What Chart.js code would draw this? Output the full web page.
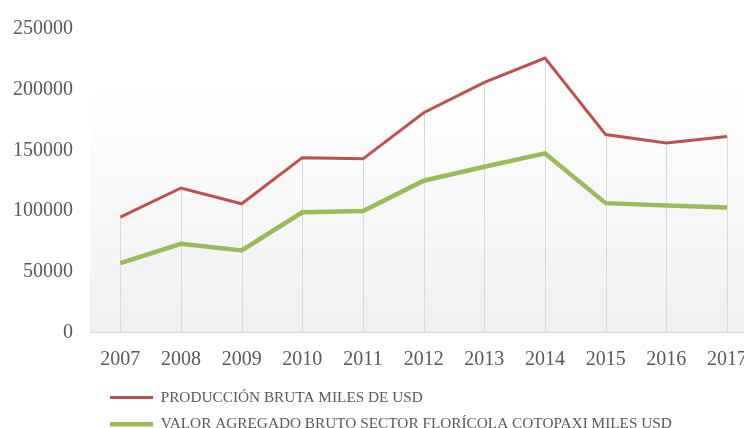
<!DOCTYPE html>
<html>
<head>
<meta charset="utf-8">
<script src="https://cdn.jsdelivr.net/npm/chart.js@4.4.1/dist/chart.umd.min.js"></script>
<style>
  html, body { margin: 0; padding: 0; background: #ffffff; overflow: hidden; }
  #wrap { position: relative; width: 762px; height: 442px; }
</style>
</head>
<body>
<div id="wrap"><canvas id="c"></canvas></div>
<script>
const years = ["2007","2008","2009","2010","2011","2012","2013","2014","2015","2016","2017"];
const produccionBruta = [95000, 119000, 106000, 144000, 143000, 181000, 206000, 226000, 163000, 156000, 161500];
const valorAgregado = [57000, 73000, 67500, 99000, 100000, 125000, 136500, 147500, 106500, 104500, 103000];
const seriesLabels = ["PRODUCCIÓN BRUTA MILES DE USD", "VALOR AGREGADO BRUTO SECTOR FLORÍCOLA COTOPAXI MILES USD"];
const yMax = 250000;
const yStep = 50000;

const bgPlugin = {
  id: 'plotBg',
  beforeDraw(chart) {
    const {ctx, chartArea} = chart;
    const top = chartArea.top + (chartArea.bottom - chartArea.top) * 0.17;
    const g = ctx.createLinearGradient(0, top, 0, chartArea.bottom);
    g.addColorStop(0, '#ffffff');
    g.addColorStop(1, '#f0f0f0');
    ctx.save();
    ctx.fillStyle = g;
    ctx.fillRect(chartArea.left, top, chartArea.right - chartArea.left, chartArea.bottom - top);
    ctx.restore();
  },
  beforeDatasetsDraw(chart) {
    const {ctx} = chart;
    const meta = chart.getDatasetMeta(0);
    const yScale = chart.scales.y;
    const base = yScale.getPixelForValue(0);
    ctx.save();
    ctx.strokeStyle = '#d9d9d9';
    ctx.lineWidth = 1;
    meta.data.forEach(pt => {
      const x = Math.round(pt.x) + 0.5;
      ctx.beginPath();
      ctx.moveTo(x, pt.y);
      ctx.lineTo(x, base);
      ctx.stroke();
    });
    ctx.restore();
  },
  afterLayout(chart) {
    const lg = chart.legend;
    if (lg) { lg.left += 8.5; lg.right += 8.5; }
  }
};

new Chart(document.getElementById('c'), {
  type: 'line',
  data: {
    labels: years,
    datasets: [
      {
        label: seriesLabels[0],
        data: produccionBruta,
        borderColor: '#c0504d',
        backgroundColor: '#c0504d',
        borderWidth: 3,
        pointRadius: 0,
        tension: 0,
        fill: false
      },
      {
        label: seriesLabels[1],
        data: valorAgregado,
        borderColor: '#9bbb59',
        backgroundColor: '#9bbb59',
        borderWidth: 4.5,
        pointRadius: 0,
        tension: 0,
        fill: false
      }
    ]
  },
  options: {
    responsive: true,
    maintainAspectRatio: false,
    animation: false,
    layout: { padding: { top: 16, left: 0, right: 0, bottom: 0 } },
    plugins: {
      tooltip: { enabled: false },
      legend: {
        position: 'bottom',
        align: 'start',
        fullSize: false,
        labels: {
          boxWidth: 43,
          boxHeight: 0,
          padding: 11.5,
          color: '#595959',
          font: { family: '"Liberation Serif", "Times New Roman", serif', size: 15.3 }
        }
      }
    },
    scales: {
      x: {
        offset: true,
        grid: { display: false, drawTicks: false },
        border: { display: true, color: '#d9d9d9', width: 1 },
        ticks: {
          color: '#595959',
          padding: 15,
          maxRotation: 0,
          font: { family: '"Liberation Serif", "Times New Roman", serif', size: 20 }
        },
        afterFit(s) { s.height = 46; }
      },
      y: {
        min: 0,
        max: yMax,
        grid: { display: false, drawTicks: false },
        border: { display: false },
        ticks: {
          stepSize: yStep,
          color: '#595959',
          padding: 17,
          callback: (v) => String(v),
          font: { family: '"Liberation Serif", "Times New Roman", serif', size: 20 }
        },
        afterFit(s) { s.width = 90; }
      }
    }
  },
  plugins: [bgPlugin]
});
</script>
</body>
</html>
